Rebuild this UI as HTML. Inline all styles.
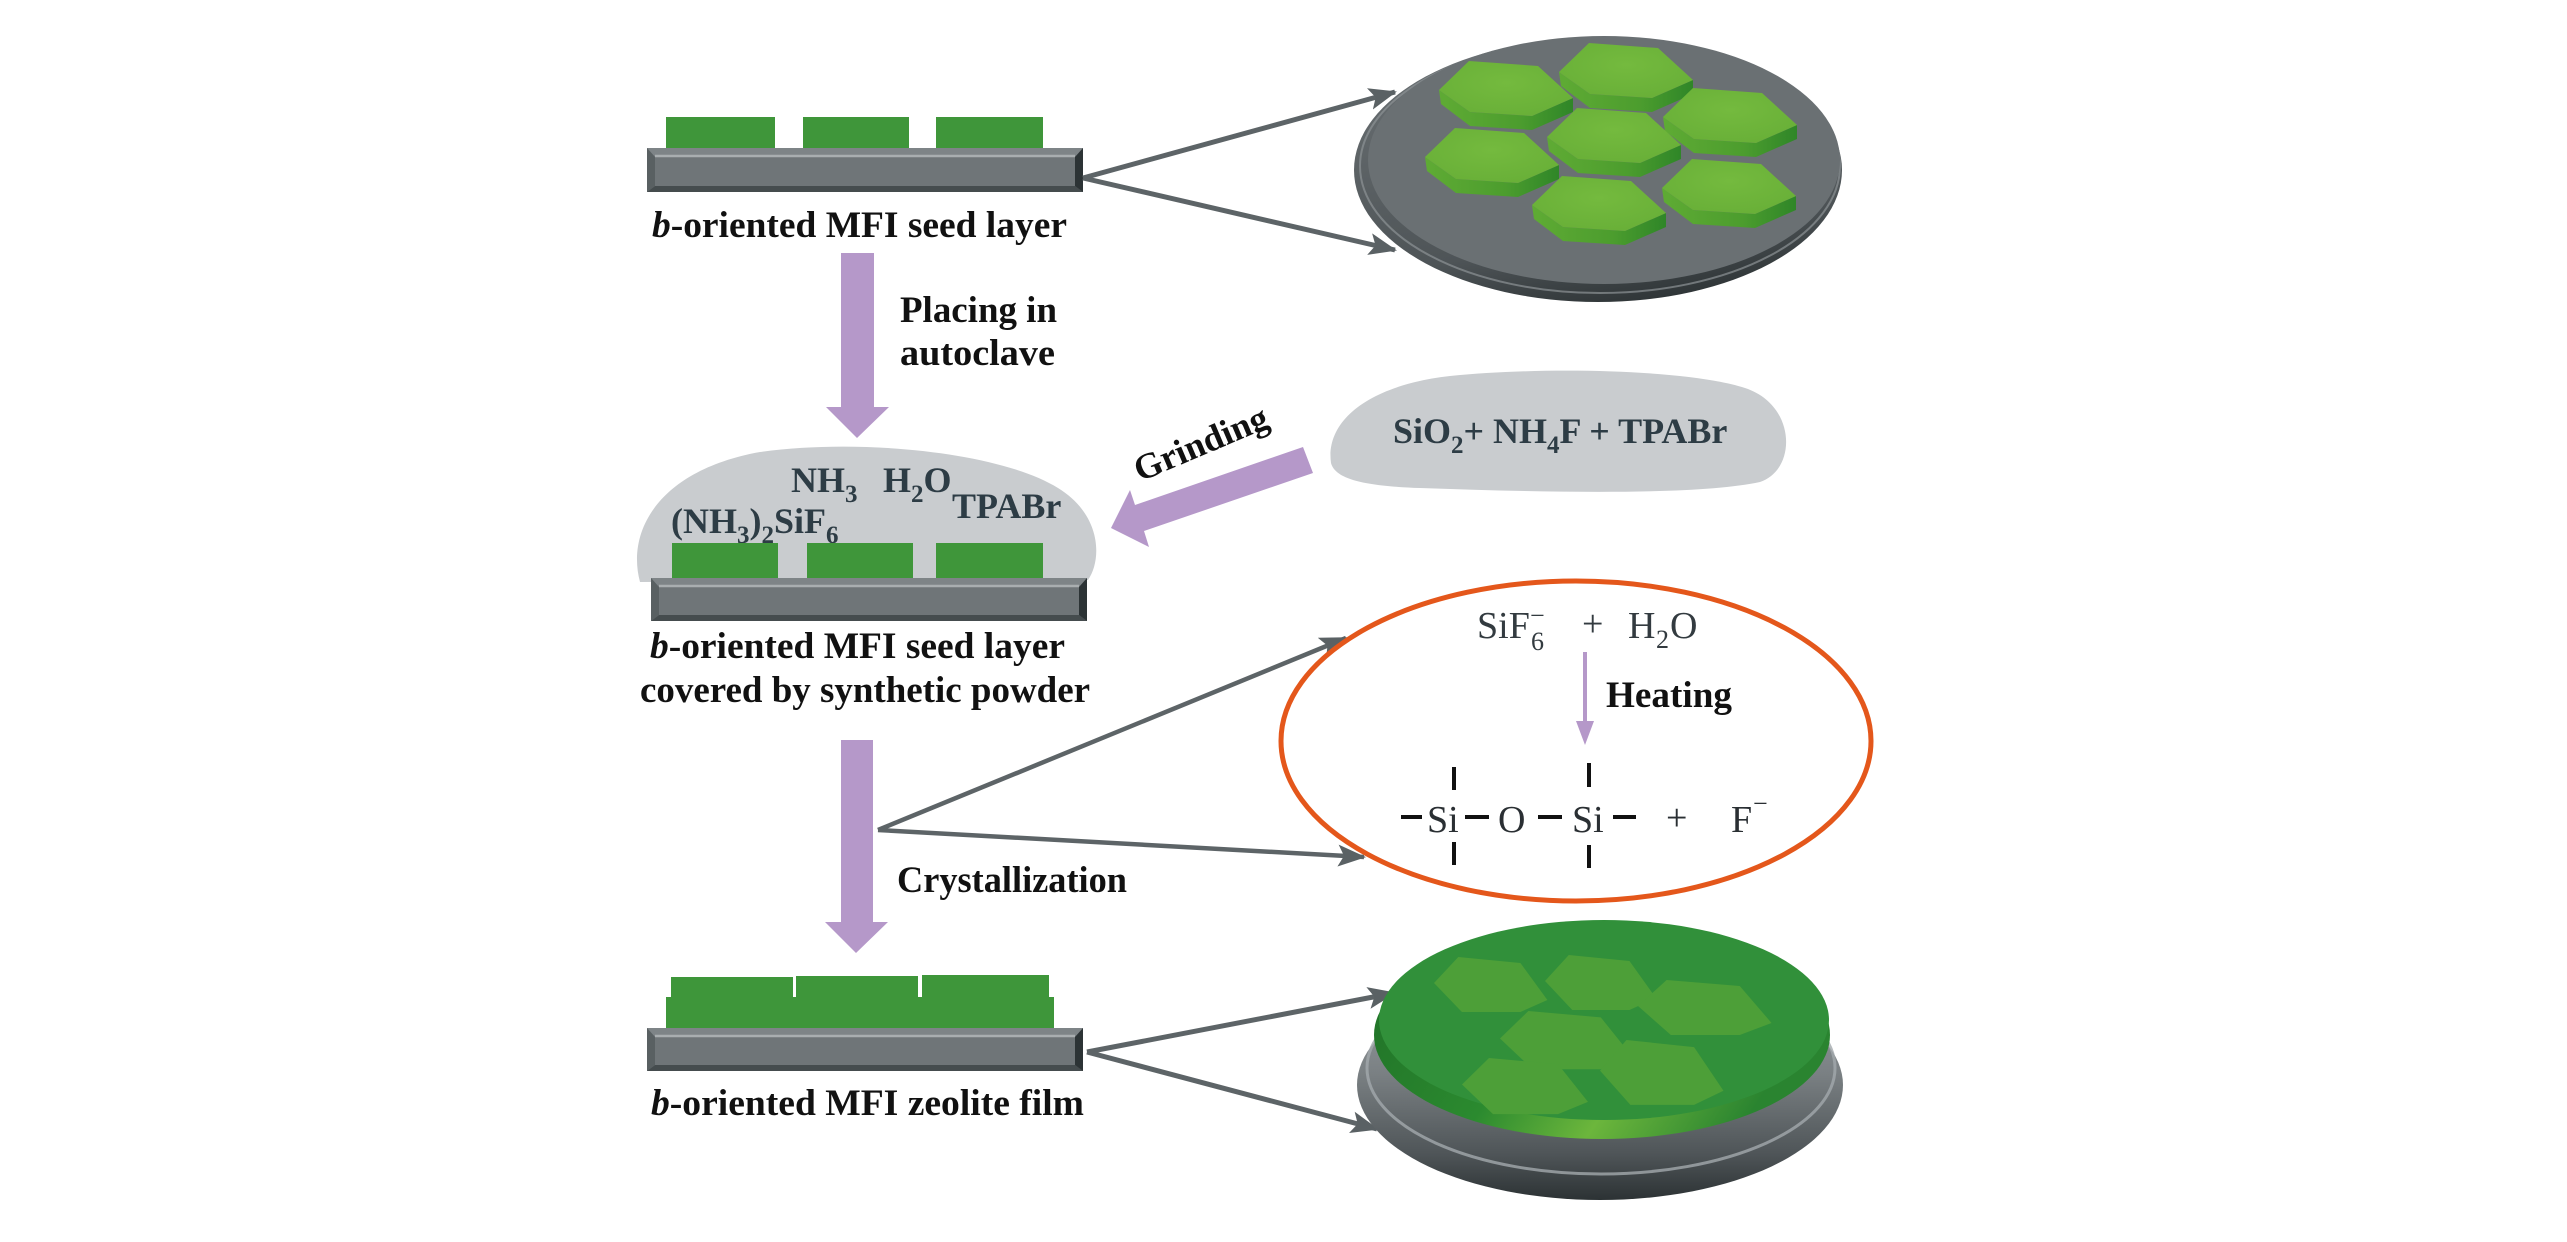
<!DOCTYPE html>
<html><head><meta charset="utf-8"><style>
html,body{margin:0;padding:0;background:#fff;}
body{width:2567px;height:1242px;overflow:hidden;}
svg{display:block;}
text{font-family:"Liberation Serif",serif;}
</style></head><body>
<svg width="2567" height="1242" viewBox="0 0 2567 1242" xmlns="http://www.w3.org/2000/svg">
<defs>
  <marker id="ah" markerUnits="userSpaceOnUse" markerWidth="30" markerHeight="26" refX="26" refY="13" orient="auto">
    <path d="M0,2 L28,13 L0,24 L6,13 Z" fill="#5a6164"/>
  </marker>
  <linearGradient id="hexside" x1="0" y1="0" x2="1" y2="0">
    <stop offset="0" stop-color="#5fab34"/>
    <stop offset="0.6" stop-color="#4c9d2e"/>
    <stop offset="1" stop-color="#2f8628"/>
  </linearGradient>
  <radialGradient id="hextop" cx="0.5" cy="0.4" r="0.6">
    <stop offset="0" stop-color="#74ba3e"/>
    <stop offset="1" stop-color="#69b038"/>
  </radialGradient>
  <linearGradient id="rimTop" x1="0.3" y1="0" x2="0.6" y2="1">
    <stop offset="0" stop-color="#6a7073"/>
    <stop offset="0.75" stop-color="#4e5457"/>
    <stop offset="1" stop-color="#2f3537"/>
  </linearGradient>
  <linearGradient id="baseBot" x1="0" y1="0" x2="0" y2="1">
    <stop offset="0" stop-color="#a0a6a9"/>
    <stop offset="0.45" stop-color="#7a8083"/>
    <stop offset="0.8" stop-color="#4f5558"/>
    <stop offset="1" stop-color="#2c3234"/>
  </linearGradient>
  <linearGradient id="greenSide" x1="0" y1="0" x2="1" y2="0.3">
    <stop offset="0" stop-color="#1f6e27"/>
    <stop offset="0.45" stop-color="#2b8a2f"/>
    <stop offset="0.7" stop-color="#6cb63c"/>
    <stop offset="1" stop-color="#2a8430"/>
  </linearGradient>
  <g id="hex">
    <polygon points="0,30 31,52 93,56 134,38 134,52 93,70 31,66 2,44" fill="url(#hexside)"/>
    <polygon points="0,30 30,1 99,6 134,38 93,56 31,52" fill="url(#hextop)"/>
  </g>
  <g id="hexf">
    <polygon points="0,26 27,0 96,6 126,43 96,55 31,55" fill="#4d9f38"/>
  </g>
</defs>

<!-- ============ TOP ROW ============ -->
<rect x="666" y="117" width="109" height="33" fill="#3f963a"/>
<rect x="803" y="117" width="106" height="33" fill="#3f963a"/>
<rect x="936" y="117" width="107" height="33" fill="#3f963a"/>
<g>
  <rect x="647" y="148" width="436" height="44" fill="#6f7578"/>
  <polygon points="647,148 1083,148 1075,157 655,157" fill="#7e8487"/>
  <line x1="655" y1="156" x2="1075" y2="156" stroke="#a9aeb0" stroke-width="2.5"/>
  <polygon points="647,192 1083,192 1075,186 655,186" fill="#454c4e"/>
  <polygon points="1083,148 1083,192 1075,186 1075,157" fill="#2c3335"/>
  <polygon points="647,148 647,192 655,186 655,157" fill="#596062"/>
</g>
<text x="652" y="237" font-size="37" font-weight="bold" fill="#111" textLength="415" lengthAdjust="spacingAndGlyphs"><tspan font-style="italic">b</tspan>-oriented  MFI seed layer</text>

<line x1="1083" y1="178" x2="1395" y2="92" stroke="#5d6467" stroke-width="5" marker-end="url(#ah)"/>
<line x1="1083" y1="178" x2="1395" y2="250" stroke="#5d6467" stroke-width="5" marker-end="url(#ah)"/>

<ellipse cx="1598" cy="170" rx="244" ry="132" fill="url(#rimTop)"/>
<ellipse cx="1600" cy="166" rx="240" ry="127" fill="none" stroke="#8d9396" stroke-width="2" opacity="0.7"/>
<ellipse cx="1604" cy="160" rx="236" ry="124" fill="#6a7073"/>
<use href="#hex" x="1559" y="42"/>
<use href="#hex" x="1439" y="60"/>
<use href="#hex" x="1663" y="87"/>
<use href="#hex" x="1547" y="107"/>
<use href="#hex" x="1425" y="127"/>
<use href="#hex" x="1662" y="158"/>
<use href="#hex" x="1532" y="175"/>

<rect x="841" y="253" width="33" height="155" fill="#b598c9"/>
<polygon points="826,407 889,407 857,438" fill="#b598c9"/>
<text x="900" y="322" font-size="37" font-weight="bold" fill="#111" textLength="157" lengthAdjust="spacingAndGlyphs">Placing in</text>
<text x="900" y="365" font-size="37" font-weight="bold" fill="#111" textLength="155" lengthAdjust="spacingAndGlyphs">autoclave</text>

<!-- ============ MIDDLE ROW ============ -->
<path d="M640,582 C626,530 660,470 760,452 C860,438 1000,452 1058,488 C1102,515 1102,560 1088,580 Z" fill="#c9cccf"/>
<g font-size="36" font-weight="bold" fill="#2d3c45">
  <text x="791" y="492">NH<tspan font-size="25" dy="10">3</tspan></text>
  <text x="883" y="492">H<tspan font-size="25" dy="10">2</tspan><tspan dy="-10">O</tspan></text>
  <text x="952" y="518">TPABr</text>
  <text x="671" y="533">(NH<tspan font-size="25" dy="10">3</tspan><tspan dy="-10">)</tspan><tspan font-size="25" dy="10">2</tspan><tspan dy="-10">SiF</tspan><tspan font-size="25" dy="10">6</tspan></text>
</g>
<rect x="672" y="543" width="106" height="36" fill="#3f963a"/>
<rect x="807" y="543" width="106" height="36" fill="#3f963a"/>
<rect x="936" y="543" width="107" height="36" fill="#3f963a"/>
<g>
  <rect x="651" y="578" width="436" height="43" fill="#6f7578"/>
  <polygon points="651,578 1087,578 1079,587 659,587" fill="#7e8487"/>
  <line x1="659" y1="586" x2="1079" y2="586" stroke="#a9aeb0" stroke-width="2.5"/>
  <polygon points="651,621 1087,621 1079,615 659,615" fill="#454c4e"/>
  <polygon points="1087,578 1087,621 1079,615 1079,587" fill="#2c3335"/>
  <polygon points="651,578 651,621 659,615 659,587" fill="#596062"/>
</g>
<text x="650" y="658" font-size="37" font-weight="bold" fill="#111" textLength="415" lengthAdjust="spacingAndGlyphs"><tspan font-style="italic">b</tspan>-oriented  MFI seed layer</text>
<text x="640" y="702" font-size="37" font-weight="bold" fill="#111" textLength="450" lengthAdjust="spacingAndGlyphs">covered by synthetic  powder</text>

<path d="M1331,463 C1325,420 1370,385 1450,376 C1550,366 1690,370 1745,388 C1797,405 1797,470 1760,482 C1700,495 1560,493 1420,488 C1360,486 1335,478 1331,463 Z" fill="#c9cccf"/>
<text x="1393" y="443" font-size="36" font-weight="bold" fill="#2d3c45">SiO<tspan font-size="25" dy="10">2</tspan><tspan dy="-10">+ NH</tspan><tspan font-size="25" dy="10">4</tspan><tspan dy="-10">F + TPABr</tspan></text>

<polygon points="1303,447 1313,473 1144,531 1149,547 1111,528 1130,490 1135,505" fill="#b598c9"/>
<text transform="translate(1140,482) rotate(-23)" font-size="36" font-weight="bold" fill="#111">Grinding</text>

<rect x="841" y="740" width="32" height="183" fill="#b598c9"/>
<polygon points="825,922 888,922 856,953" fill="#b598c9"/>
<text x="897" y="892" font-size="37" font-weight="bold" fill="#111" textLength="230" lengthAdjust="spacingAndGlyphs">Crystallization</text>

<line x1="878" y1="830" x2="1346" y2="638" stroke="#5d6467" stroke-width="4.5" marker-end="url(#ah)"/>
<line x1="878" y1="830" x2="1364" y2="857" stroke="#5d6467" stroke-width="4.5" marker-end="url(#ah)"/>

<ellipse cx="1576" cy="741" rx="295" ry="160" fill="none" stroke="#e4571b" stroke-width="5"/>
<g fill="#333b40" font-size="38">
  <text x="1477" y="638">SiF</text>
  <text x="1531" y="650" font-size="26">6</text>
  <text x="1530" y="624" font-size="26">−</text>
  <text x="1582" y="636">+</text>
  <text x="1628" y="638">H</text>
  <text x="1656" y="648" font-size="26">2</text>
  <text x="1670" y="638">O</text>
</g>
<line x1="1585" y1="652" x2="1585" y2="726" stroke="#b598c9" stroke-width="4"/>
<polygon points="1576,721 1594,721 1585,745" fill="#b598c9"/>
<text x="1606" y="707" font-size="37" font-weight="bold" fill="#111" textLength="126" lengthAdjust="spacingAndGlyphs">Heating</text>
<g fill="#2a2f33" font-size="38">
  <text x="1427" y="832">Si</text>
  <text x="1498" y="832">O</text>
  <text x="1572" y="832">Si</text>
  <text x="1666" y="830">+</text>
  <text x="1731" y="832">F</text>
  <text x="1753" y="812" font-size="26">−</text>
</g>
<g fill="#111">
  <rect x="1401" y="815" width="21" height="4"/>
  <rect x="1465" y="815" width="24" height="4"/>
  <rect x="1538" y="815" width="24" height="4"/>
  <rect x="1613" y="815" width="23" height="4"/>
  <rect x="1452" y="767" width="4" height="23"/>
  <rect x="1452" y="842" width="4" height="23"/>
  <rect x="1587" y="763" width="4" height="24"/>
  <rect x="1587" y="845" width="4" height="23"/>
</g>

<!-- ============ BOTTOM ROW ============ -->
<g fill="#3e963a">
  <rect x="666" y="997" width="388" height="33"/>
  <rect x="671" y="977" width="122" height="22"/>
  <rect x="796" y="976" width="122" height="23"/>
  <rect x="922" y="975" width="127" height="24"/>
</g>
<g>
  <rect x="647" y="1028" width="436" height="43" fill="#6f7578"/>
  <polygon points="647,1028 1083,1028 1075,1037 655,1037" fill="#7e8487"/>
  <line x1="655" y1="1036" x2="1075" y2="1036" stroke="#a9aeb0" stroke-width="2.5"/>
  <polygon points="647,1071 1083,1071 1075,1065 655,1065" fill="#454c4e"/>
  <polygon points="1083,1028 1083,1071 1075,1065 1075,1037" fill="#2c3335"/>
  <polygon points="647,1028 647,1071 655,1065 655,1037" fill="#596062"/>
</g>
<text x="651" y="1115" font-size="37" font-weight="bold" fill="#111" textLength="433" lengthAdjust="spacingAndGlyphs"><tspan font-style="italic">b</tspan>-oriented  MFI  zeolite  film</text>

<line x1="1087" y1="1052" x2="1394" y2="993" stroke="#5d6467" stroke-width="5" marker-end="url(#ah)"/>
<line x1="1087" y1="1052" x2="1377" y2="1129" stroke="#5d6467" stroke-width="5" marker-end="url(#ah)"/>

<!-- bottom disk -->
<ellipse cx="1600" cy="1085" rx="243" ry="115" fill="url(#baseBot)"/>
<ellipse cx="1601" cy="1068" rx="234" ry="106" fill="none" stroke="#a3a9ac" stroke-width="3" opacity="0.8"/>
<ellipse cx="1602" cy="1035" rx="228" ry="104" fill="url(#greenSide)"/>
<ellipse cx="1604" cy="1020" rx="225" ry="100" fill="#31903a"/>
<use href="#hexf" transform="translate(1434,957) scale(0.9,1.0)"/>
<use href="#hexf" transform="translate(1545,955) scale(0.88,1.0)"/>
<use href="#hexf" transform="translate(1638,980) scale(1.06,1.0)"/>
<use href="#hexf" transform="translate(1500,1011) scale(1.05,1.06)"/>
<use href="#hexf" transform="translate(1462,1058) scale(1.0,1.02)"/>
<use href="#hexf" transform="translate(1600,1040) scale(0.98,1.18)"/>
</svg>
</body></html>
